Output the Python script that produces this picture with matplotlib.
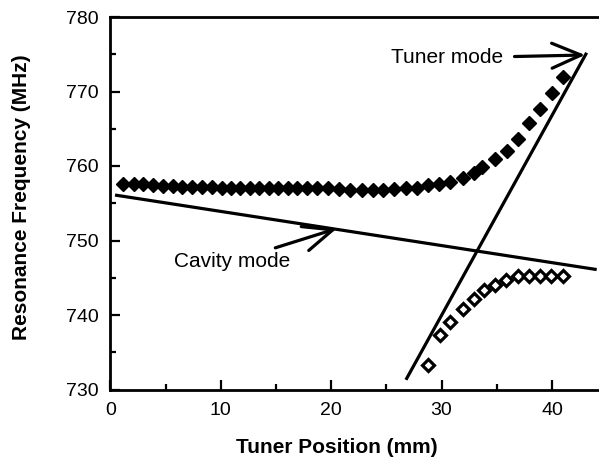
import matplotlib
matplotlib.use("Agg")
import matplotlib.pyplot as plt
from matplotlib.ticker import MultipleLocator

plt.rcParams['font.family'] = ['Liberation Sans', 'DejaVu Sans']

# upper branch (filled diamonds)
upper_x = [1.17, 2.14, 2.98, 3.83, 4.74, 5.70, 6.46, 7.36, 8.27, 9.18,
           10.08, 10.9, 11.74, 12.65, 13.49, 14.4, 15.2, 16.1, 16.9, 17.8,
           18.7, 19.7, 20.7, 21.7, 22.8, 23.8, 24.7, 25.7, 26.8, 27.8,
           28.8, 29.8, 30.8, 31.9, 32.9, 33.7, 34.8, 35.9, 36.9, 37.9,
           38.9, 40.0, 41.0]
upper_y = [757.6, 757.6, 757.6, 757.5, 757.3, 757.3, 757.2, 757.2, 757.2, 757.2,
           757.1, 757.1, 757.1, 757.1, 757.1, 757.1, 757.1, 757.0, 757.0, 757.0,
           757.0, 757.0, 756.9, 756.8, 756.8, 756.8, 756.8, 756.9, 757.0, 757.0,
           757.4, 757.6, 757.9, 758.4, 759.0, 759.8, 760.9, 762.0, 763.6, 765.8,
           767.6, 769.8, 772.0]

# lower branch (open diamonds)
lower_x = [28.8, 29.85, 30.8, 31.9, 32.9, 33.8, 34.8, 35.8, 36.9, 37.9, 38.9, 39.9, 41.0]
lower_y = [733.3, 737.3, 739.1, 740.8, 742.1, 743.3, 744.0, 744.7, 745.2, 745.3, 745.3, 745.3, 745.3]

# uncoupled modes (straight lines)
cavity_x = [0.42, 44.05]
cavity_y = [756.1, 746.1]
tuner_x = [26.77, 43.14]
tuner_y = [731.3, 775.2]

W, H = 599, 458
fig = plt.figure(figsize=(W / 100, H / 100), dpi=100)
ax = fig.add_axes([110.4 / W, 1 - 389.5 / H, (W - 110.4) / W, (389.5 - 17) / H])

ax.plot(cavity_x, cavity_y, color='black', lw=2.3, solid_capstyle='butt')
ax.plot(tuner_x, tuner_y, color='black', lw=2.3, solid_capstyle='butt')
ax.plot(upper_x, upper_y, ls='none', marker='D', ms=7.5, color='black')
ax.plot(lower_x, lower_y, ls='none', marker='D', ms=6.3, mfc='white', mec='black', mew=2.3)

ax.set_xlim(0, 44.26)
ax.set_ylim(730, 780)

ax.xaxis.set_major_locator(MultipleLocator(10))
ax.xaxis.set_minor_locator(MultipleLocator(5))
ax.yaxis.set_major_locator(MultipleLocator(10))
ax.yaxis.set_minor_locator(MultipleLocator(5))
ax.tick_params(which='both', direction='in', width=1.6, top=False, right=False)
ax.tick_params(which='major', length=7)
ax.tick_params(which='minor', length=4)
ax.tick_params(axis='x', labelsize=14, pad=9)
ax.tick_params(axis='y', labelsize=14, pad=8.5)

for side in ['left', 'bottom', 'top']:
    ax.spines[side].set_linewidth(2.0)
ax.spines['right'].set_visible(False)

# labels
fig.text(337 / W, 1 - 453 / H, 'Tuner Position (mm)', fontsize=15, fontweight='bold',
         ha='center', va='baseline')
fig.text(26.7 / W, 1 - 197 / H, 'Resonance Frequency (MHz)', fontsize=15, fontweight='bold',
         rotation=90, rotation_mode='anchor', ha='center', va='baseline')

# annotations
ax.annotate('Cavity mode', xy=(20.5, 751.6), xytext=(16.3, 747.2), fontsize=15,
            ha='right', va='center',
            arrowprops=dict(arrowstyle='->, head_length=1.4, head_width=0.6', lw=2.3,
                            color='black', shrinkA=3, shrinkB=0))
ax.annotate('Tuner mode', xy=(43.0, 774.9), xytext=(35.6, 774.5), fontsize=15,
            ha='right', va='center',
            arrowprops=dict(arrowstyle='->, head_length=1.4, head_width=0.6', lw=2.3,
                            color='black', shrinkA=6, shrinkB=0))

fig.savefig('out.png', dpi=100)
